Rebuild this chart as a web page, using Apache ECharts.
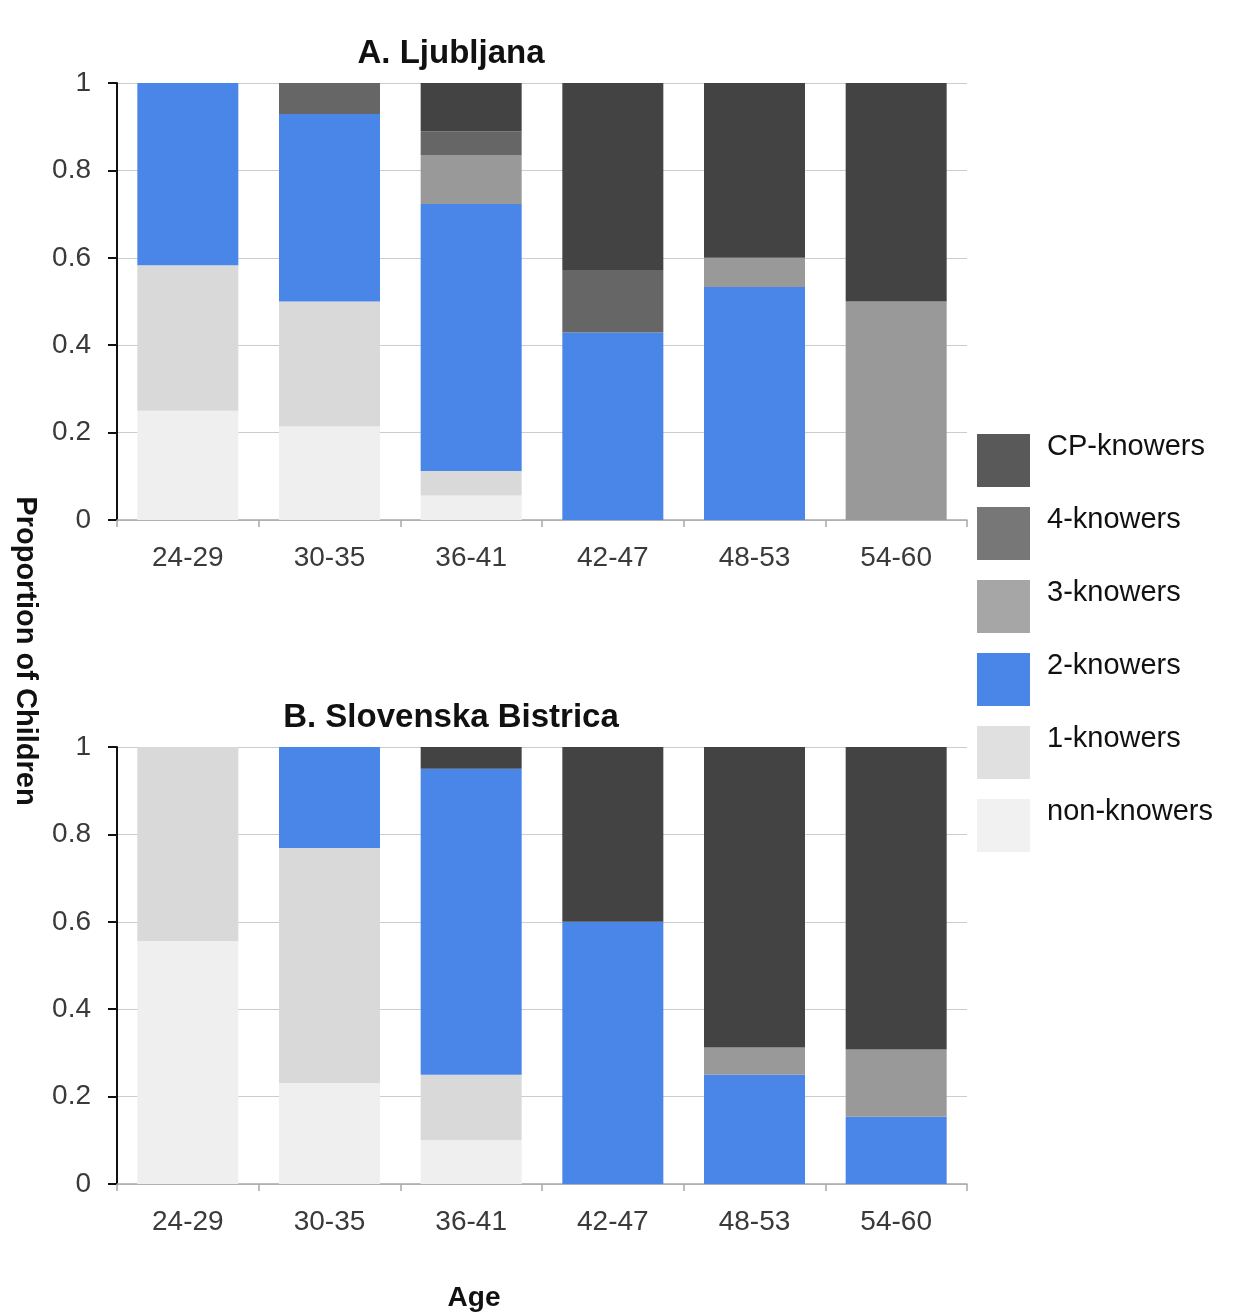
<!DOCTYPE html>
<html>
<head>
<meta charset="utf-8">
<script src="https://cdn.jsdelivr.net/npm/echarts@6/dist/echarts.min.js"></script>
<style>
html,body{margin:0;padding:0;background:#fff;}
#chart{width:1233px;height:1314px;}
</style>
</head>
<body>
<div id="chart"></div>
<script>
var categories = ['24-29', '30-35', '36-41', '42-47', '48-53', '54-60'];
var seriesNames = ['non-knowers', '1-knowers', '2-knowers', '3-knowers', '4-knowers', 'CP-knowers'];
var legendOrder = ['CP-knowers', '4-knowers', '3-knowers', '2-knowers', '1-knowers', 'non-knowers'];
var barColors = ['#efefef', '#d9d9d9', '#4a86e8', '#999999', '#666666', '#434343'];
var legendColors = ['#f1f1f1', '#e0e0e0', '#4a86e8', '#a6a6a6', '#777777', '#595959'];

// A. Ljubljana
var ljNon = [0.25, 0.214, 0.056, 0, 0, 0];
var lj1 = [0.333, 0.286, 0.056, 0, 0, 0];
var lj2 = [0.417, 0.429, 0.611, 0.429, 0.533, 0];
var lj3 = [0, 0, 0.111, 0, 0.067, 0.5];
var lj4 = [0, 0.071, 0.055, 0.143, 0, 0];
var ljCP = [0, 0, 0.111, 0.428, 0.4, 0.5];

// B. Slovenska Bistrica
var sbNon = [0.556, 0.231, 0.1, 0, 0, 0];
var sb1 = [0.444, 0.538, 0.15, 0, 0, 0];
var sb2 = [0, 0.231, 0.7, 0.6, 0.25, 0.154];
var sb3 = [0, 0, 0, 0, 0.0625, 0.154];
var sb4 = [0, 0, 0, 0, 0, 0];
var sbCP = [0, 0, 0.05, 0.4, 0.6875, 0.692];

var yTicks = [0, 0.2, 0.4, 0.6, 0.8, 1];

var ljData = [ljNon, lj1, lj2, lj3, lj4, ljCP];
var sbData = [sbNon, sb1, sb2, sb3, sb4, sbCP];

var FONT = '"Liberation Sans", Arial, Helvetica, sans-serif';

function xAxisCfg(gi) {
  return {
    type: 'category', gridIndex: gi, data: categories,
    axisLine: {show: true, lineStyle: {color: '#a8a8a8', width: 1.5}},
    axisTick: {show: true, length: 7, lineStyle: {color: '#a8a8a8', width: 1.5}},
    axisLabel: {fontFamily: FONT, fontSize: 28, color: '#3a3a3a', margin: 24}
  };
}
function yAxisCfg(gi) {
  return {
    type: 'value', gridIndex: gi, min: yTicks[0], max: yTicks[yTicks.length - 1], interval: 0.2,
    axisLine: {show: true, lineStyle: {color: '#111', width: 2}},
    axisTick: {show: true, length: 9, lineStyle: {color: '#111', width: 2}},
    axisLabel: {fontFamily: FONT, fontSize: 28, color: '#3a3a3a', margin: 26, padding: [4, 0, 0, 0],
      formatter: function (v) { return String(Math.round(v * 10) / 10); }},
    splitLine: {show: true, lineStyle: {color: '#cccccc', width: 1}}
  };
}

var series = [];
[ljData, sbData].forEach(function (dataset, gi) {
  seriesNames.forEach(function (name, i) {
    series.push({
      name: name, type: 'bar', stack: 'g' + gi,
      xAxisIndex: gi, yAxisIndex: gi,
      barWidth: 101,
      itemStyle: {color: barColors[i]},
      emphasis: {disabled: true},
      data: dataset[i]
    });
  });
});

var chart = echarts.init(document.getElementById('chart'), null, {renderer: 'canvas'});
chart.setOption({
  animation: false,
  backgroundColor: '#ffffff',
  grid: [
    {left: 117, top: 83, width: 850, height: 437},
    {left: 117, top: 747, width: 850, height: 437}
  ],
  xAxis: [xAxisCfg(0), xAxisCfg(1)],
  yAxis: [yAxisCfg(0), yAxisCfg(1)],
  legend: {
    orient: 'vertical', left: 977, top: 432, padding: 0,
    itemWidth: 53, itemHeight: 53, itemGap: 16,
    icon: 'rect',
    selectedMode: false,
    formatter: function (n) { return n + '\n '; },
    textStyle: {fontFamily: FONT, fontSize: 29, lineHeight: 28, color: '#111', padding: [0, 0, 0, 12]},
    data: legendOrder.map(function (n) {
      var idx = seriesNames.indexOf(n);
      return {name: n, itemStyle: {color: legendColors[idx]}};
    })
  },
  graphic: [
    {type: 'text', x: 451, y: 54, style: {text: 'A. Ljubljana', font: 'bold 33px ' + FONT, fill: '#111', textAlign: 'center', textVerticalAlign: 'middle'}},
    {type: 'text', x: 451, y: 718, style: {text: 'B. Slovenska Bistrica', font: 'bold 33px ' + FONT, fill: '#111', textAlign: 'center', textVerticalAlign: 'middle'}},
    {type: 'text', x: 25, y: 651, rotation: -Math.PI / 2, style: {text: 'Proportion of Children', font: 'bold 29px ' + FONT, fill: '#111', textAlign: 'center', textVerticalAlign: 'middle'}},
    {type: 'text', x: 474, y: 1298, style: {text: 'Age', font: 'bold 28px ' + FONT, fill: '#111', textAlign: 'center', textVerticalAlign: 'middle'}}
  ],
  series: series
});
</script>
</body>
</html>
